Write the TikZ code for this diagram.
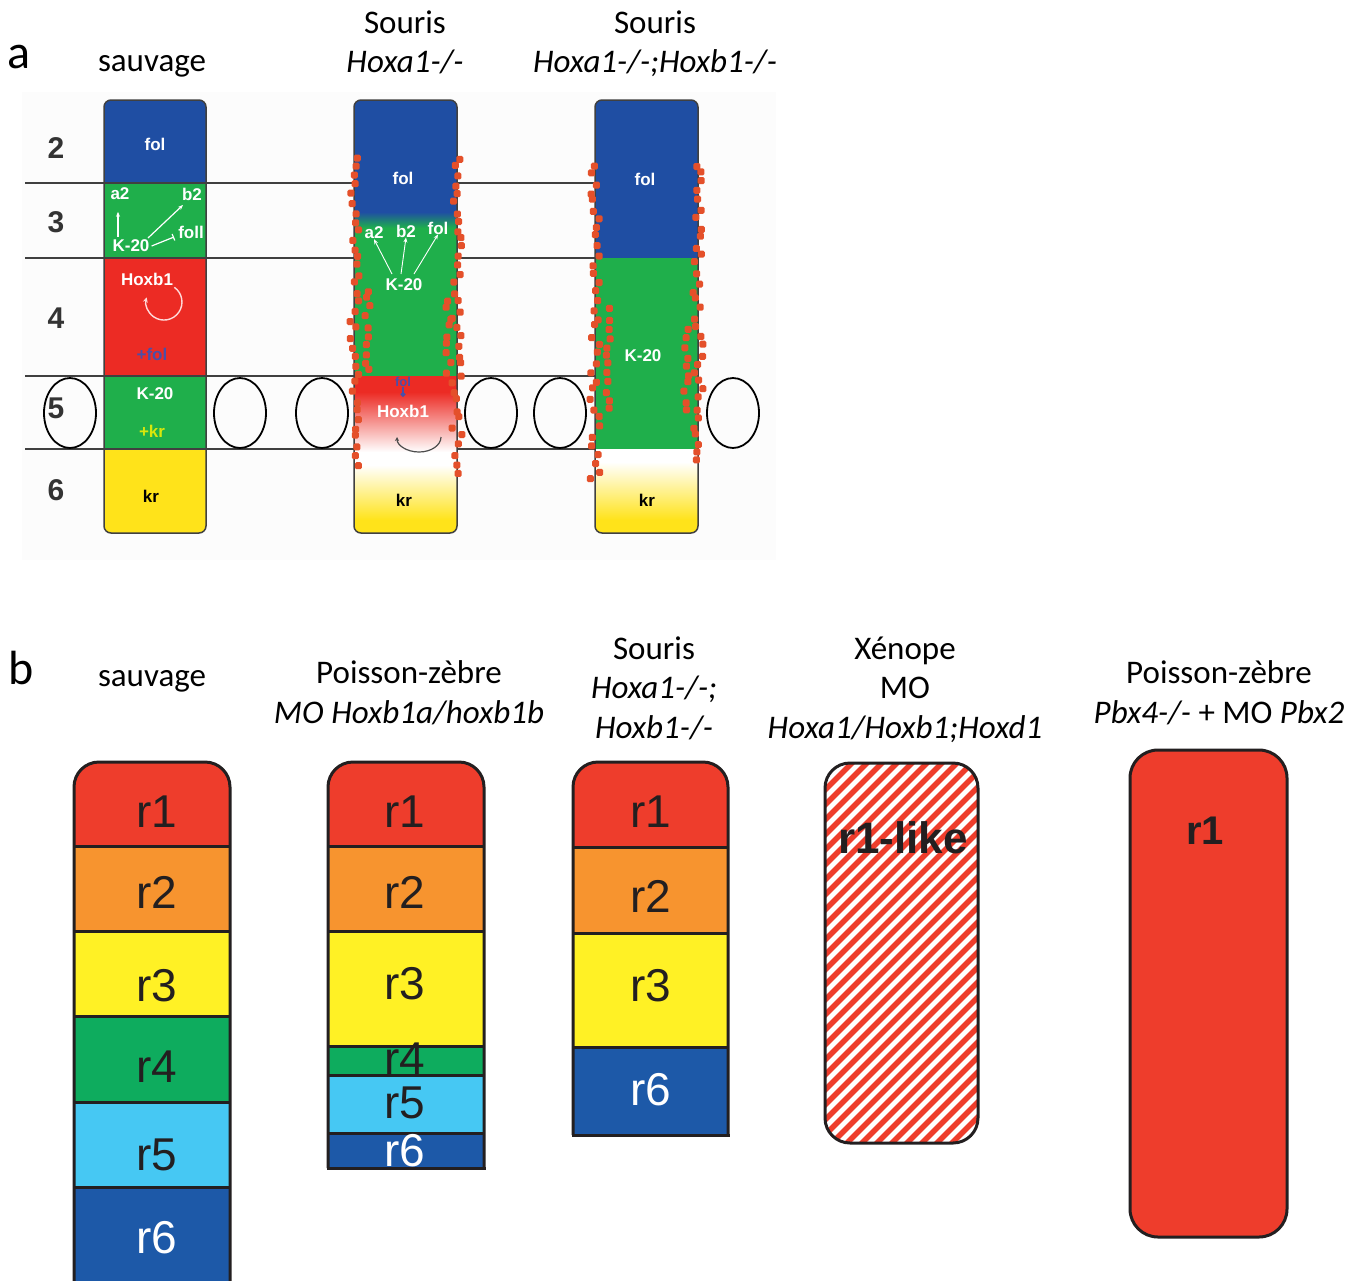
\documentclass[tikz,border=0pt]{standalone}
\usepackage{fontspec}
\setmainfont{Carlito}
\newfontfamily\helv{Liberation Sans}
\usetikzlibrary{arrows.meta}

\definecolor{folblue}{HTML}{1F4EA3}
\definecolor{kgreen}{HTML}{1FAF4B}
\definecolor{hoxred}{HTML}{EC2B24}
\definecolor{kryellow}{HTML}{FFE31A}
\definecolor{speckred}{HTML}{E4502A}
\definecolor{folviolet}{HTML}{4B4FA8}
\definecolor{rOne}{HTML}{EE3D2C}
\definecolor{rTwo}{HTML}{F7942F}
\definecolor{rThree}{HTML}{FFF125}
\definecolor{rFour}{HTML}{0EAC5E}
\definecolor{rFive}{HTML}{46C8F3}
\definecolor{rSix}{HTML}{1D59A8}
\definecolor{edge}{HTML}{231F20}

\tikzset{
  every node/.style={inner sep=0pt},
  headtxt/.style={anchor=base, font=\fontsize{33}{40}\selectfont},
  panellbl/.style={anchor=base west, font=\fontsize{48}{48}\selectfont},
  rownum/.style={font=\helv\bfseries\fontsize{30}{30}\selectfont, text=black!80},
  gene/.style={font=\helv\bfseries\fontsize{17}{17}\selectfont, text=white},
  genearrow/.style={white, line width=1.2pt, -{Stealth[length=5pt,width=4pt]}},
  rowline/.style={draw=black!75, line width=2pt},
  coledge/.style={draw=black!75, line width=1.5pt, rounded corners=7},
  ring/.style={draw=black, line width=1.8pt},
  speck/.style={fill=speckred},
  rlbl/.style={font=\helv\fontsize{46}{46}\selectfont, text=edge},
  bandedge/.style={draw=edge, line width=3pt},
  hatchred/.style={draw=rOne, line width=5.5pt},
}

\begin{document}
\begin{tikzpicture}[x=1pt, y=-1pt]
\useasboundingbox (0,0) rectangle (1365,1280);
\fill[white] (0,0) rectangle (1365,1280);

% ---------- panel a ----------
\node[panellbl] (pa) at (7,68) {a};
\node[headtxt] (ha1) at (152,71) {sauvage};
\node[headtxt] (ha2) at (405,33) {Souris};
\node[headtxt] (ha2b) at (405,72) {\textit{Hoxa1-/-}};
\node[headtxt] (ha3) at (655,33) {Souris};
\node[headtxt] (ha3b) at (655,72) {\textit{Hoxa1-/-;Hoxb1-/-}};

\fill[black!1.2] (22,92) rectangle (776,560);

% wild type
\begin{scope}
  \clip[rounded corners=7] (104,100) rectangle (206,533);
  \fill[folblue] (100,100) rectangle (210,183);
  \fill[kgreen] (100,183) rectangle (210,258);
  \fill[hoxred] (100,258) rectangle (210,376);
  \fill[kgreen] (100,376) rectangle (210,449);
  \fill[kryellow] (100,449) rectangle (210,533);
\end{scope}
\draw[coledge] (104,100) rectangle (206,533);

% Hoxa1 mutant
\begin{scope}
  \clip[rounded corners=7] (354,100) rectangle (457,533);
  \fill[folblue] (350,100) rectangle (460,212);
  \shade[top color=folblue, bottom color=kgreen] (350,212) rectangle (460,228);
  \fill[kgreen] (350,228) rectangle (460,376);
  \fill[hoxred] (350,376) rectangle (460,392);
  \shade[top color=hoxred, bottom color=white] (350,392) rectangle (460,452);
  \fill[white] (350,452) rectangle (460,465);
  \shade[top color=white, bottom color=kryellow] (350,465) rectangle (460,520);
  \fill[kryellow] (350,520) rectangle (460,533);
\end{scope}
\draw[coledge] (354,100) rectangle (457,533);

% Hoxa1;Hoxb1 mutant
\begin{scope}
  \clip[rounded corners=7] (595,100) rectangle (698,533);
  \fill[folblue] (590,100) rectangle (700,258);
  \fill[kgreen] (590,258) rectangle (700,449);
  \fill[white] (590,449) rectangle (700,462);
  \shade[top color=white, bottom color=kryellow] (590,462) rectangle (700,520);
  \fill[kryellow] (590,520) rectangle (700,533);
\end{scope}
\draw[coledge] (595,100) rectangle (698,533);

% rhombomere boundaries
\foreach \y in {183,258,376,449}{
  \draw[rowline] (25,\y) -- (354,\y);
  \draw[rowline] (457,\y) -- (595,\y);
}

% otic vesicles
\foreach \x in {70,240,322,491,560,733}
  \draw[ring] (\x,413) ellipse [x radius=26, y radius=35];

\foreach \n/\y in {2/148,3/222,4/318,5/408,6/490}
  \node[rownum] (row\n) at (56,\y) {\n};

% scattered cells along the mutant columns
\pgfmathsetseed{11}
\foreach \cx/\ya/\n in {354/158/34, 457/158/35, 595/165/35, 698/165/33}{
  \foreach \i in {0,...,\n}{
    \pgfmathsetmacro\px{\cx+5*rand}
    \pgfmathsetmacro\py{\ya+9*\i+2.5*rand}
    \fill[speck, rounded corners=1.5] (\px-3.5,\py-3.5) rectangle ++(7,7);
  }
}
\foreach \cx/\ya/\n in {367/290/9, 449/300/8, 609/310/11, 686/330/9}{
  \foreach \i in {0,...,\n}{
    \pgfmathsetmacro\px{\cx+3*rand}
    \pgfmathsetmacro\py{\ya+9*\i+2.5*rand}
    \fill[speck, rounded corners=1.5] (\px-3.5,\py-3.5) rectangle ++(7,7);
  }
}

% wild type labels
\node[gene] (wt-fol) at (155,144) {fol};
\node[gene] (wt-a2) at (120,194) {a2};
\node[gene] (wt-b2) at (192,194) {b2};
\node[gene] (wt-k) at (131,246) {K-20};
\node[gene] (wt-foll) at (191,232) {foll};
\draw[genearrow] (wt-a2 |- wt-k.north) ++(-2,-3) -- ++(0,-25);
\draw[genearrow] (148,238) -- (183,205);
\draw[white, line width=1.2pt, -{Bar[width=7pt]}] (wt-k.east) ++(2,0) -- (174,237);
\node[gene] (wt-hox) at (147,279) {Hoxb1};
\draw[white!85!red, line width=1.4pt, -{Stealth[length=5pt,width=5pt]}]
  (174.3,287.3) arc [start angle=-55, end angle=195, radius=18];
\node[gene, text=folviolet] (wt-pfol) at (152,354) {+fol};
\node[gene] (wt-k5) at (155,394) {K-20};
\node[gene, text=yellow!85!green] (wt-pkr) at (152,431) {+kr};
\node[gene, text=black] (wt-kr) at (151,496) {kr};

% Hoxa1 mutant labels
\node[gene] (ha-fol) at (403,178) {fol};
\node[gene] (ha-a2) at (374,233) {a2};
\node[gene] (ha-b2) at (406,231) {b2};
\node[gene] (ha-fol2) at (438,228) {fol};
\node[gene] (ha-k) at (404,285) {K-20};
\draw[genearrow, line width=0.9pt] (392,274) -- (ha-a2.south);
\draw[genearrow, line width=0.9pt] (401,274) -- (ha-b2.south);
\draw[genearrow, line width=0.9pt] (414,274) -- (ha-fol2.south);
\node[font=\helv\bfseries\fontsize{13}{13}\selectfont, text=folviolet] (ha-pfol) at (403,382) {fol};
\draw[folviolet, line width=1.2pt, -{Circle[length=5pt]}] (ha-pfol.south) -- ++(0,10);
\node[gene] (ha-hox) at (403,411) {Hoxb1};
\draw[black!70, line width=1.2pt, {Stealth[length=4pt,width=4pt]}-]
  (397,437) arc [start angle=180, end angle=0, x radius=22, y radius=15];
\node[gene, text=black] (ha-kr) at (404,500) {kr};

% Hoxa1;Hoxb1 mutant labels
\node[gene] (dm-fol) at (645,179) {fol};
\node[gene] (dm-k) at (643,356) {K-20};
\node[gene, text=black] (dm-kr) at (647,500) {kr};

% ---------- panel b ----------
\node[panellbl] (pb) at (8,684) {b};
\node[headtxt] (hb1) at (152,686) {sauvage};
\node[headtxt] (hb2) at (409,683) {Poisson-zèbre};
\node[headtxt] (hb2b) at (409,723) {\textit{MO Hoxb1a/hoxb1b}};
\node[headtxt] (hb3) at (654,659) {Souris};
\node[headtxt] (hb3b) at (654,698) {\textit{Hoxa1-/-;}};
\node[headtxt] (hb3c) at (654,738) {\textit{Hoxb1-/-}};
\node[headtxt] (hb4) at (905,659) {Xénope};
\node[headtxt] (hb4b) at (905,698) {MO};
\node[headtxt] (hb4c) at (905,738) {\textit{Hoxa1/Hoxb1;Hoxd1}};
\node[headtxt] (hb5) at (1219,683) {Poisson-zèbre};
\node[headtxt] (hb5b) at (1219,723) {\textit{Pbx4-/-} + MO \textit{Pbx2}};

% wild type hindbrain
\begin{scope}
  \clip[rounded corners=25] (74,1300) -- (74,762) -- (230,762) -- (230,1300);
  \foreach \ya/\yb/\c in {762/846/rOne, 846/931/rTwo, 931/1016/rThree,
                           1016/1102/rFour, 1102/1187/rFive, 1187/1300/rSix}
    \fill[\c] (70,\ya) rectangle (235,\yb);
\end{scope}
\foreach \y in {846,931,1016,1102,1187}
  \draw[bandedge] (74,\y) -- (230,\y);
\draw[bandedge, rounded corners=25] (74,1300) -- (74,762) -- (230,762) -- (230,1300);
\foreach \n/\y/\c in {1/812/edge, 2/892/edge, 3/986/edge, 4/1067/edge, 5/1155/edge, 6/1238/white}
  \node[rlbl, text=\c] (wt-r\n) at (157,\y) {r\n};

% zebrafish morphant
\begin{scope}
  \clip[rounded corners=25] (328,1168) -- (328,762) -- (484,762) -- (484,1168);
  \foreach \ya/\yb/\c in {762/846/rOne, 846/931/rTwo, 931/1046/rThree,
                           1046/1075/rFour, 1075/1133/rFive, 1133/1170/rSix}
    \fill[\c] (324,\ya) rectangle (488,\yb);
\end{scope}
\foreach \y in {846,931,1046,1075,1133}
  \draw[bandedge] (328,\y) -- (484,\y);
\draw[bandedge, rounded corners=25] (328,1168) -- (328,762) -- (484,762) -- (484,1168);
\draw[bandedge, line cap=rect] (328,1168) -- (484,1168);
\foreach \n/\y/\c in {1/812/edge, 2/892/edge, 3/984/edge, 4/1059/edge, 5/1103/edge, 6/1151/white}
  \node[rlbl, text=\c] (zf-r\n) at (405,\y) {r\n};

% mouse double mutant
\begin{scope}
  \clip[rounded corners=25] (573,1135) -- (573,762) -- (728,762) -- (728,1135);
  \foreach \ya/\yb/\c in {762/847/rOne, 847/933/rTwo, 933/1047/rThree, 1047/1137/rSix}
    \fill[\c] (569,\ya) rectangle (732,\yb);
\end{scope}
\foreach \y in {847,933,1047}
  \draw[bandedge] (573,\y) -- (728,\y);
\draw[bandedge, rounded corners=25] (573,1135) -- (573,762) -- (728,762) -- (728,1135);
\draw[bandedge, line cap=rect] (573,1135) -- (728,1135);
\foreach \n/\y/\c in {1/812/edge, 2/896/edge, 3/986/edge, 6/1090/white}
  \node[rlbl, text=\c] (ms-r\n) at (651,\y) {r\n};

% Xenopus morphant, hatched
\begin{scope}
  \clip[rounded corners=25] (825,763) rectangle (978,1143);
  \fill[white] (825,763) rectangle (978,1143);
  \foreach \k in {-28,...,12}
    \draw[hatchred] (825+15*\k,1150) -- ++(400,-400);
\end{scope}
\draw[bandedge, rounded corners=25] (825,763) rectangle (978,1143);
\node[font=\helv\bfseries\fontsize{44}{44}\selectfont, text=edge] (xl-r1) at (903,838) {r1-like};

% zebrafish pbx
\draw[bandedge, fill=rOne, rounded corners=28] (1130,750) rectangle (1287,1237);
\node[font=\helv\bfseries\fontsize{40}{40}\selectfont, text=edge] (pb-r1) at (1205,831) {r1};
\end{tikzpicture}
\end{document}
